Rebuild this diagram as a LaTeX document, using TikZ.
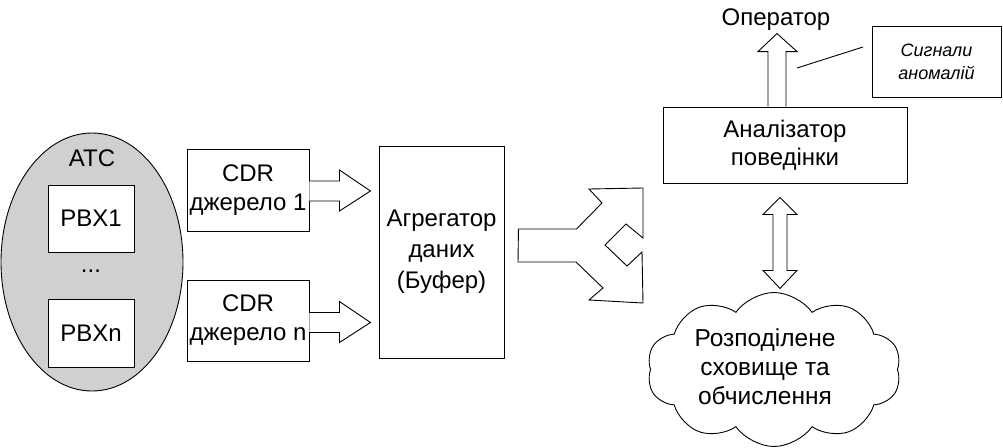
\documentclass[tikz,border=0pt]{standalone}
\usepackage{fontspec}
\setmainfont{Liberation Sans}
\usetikzlibrary{shapes.geometric,shapes.symbols,calc}
\definecolor{atcgray}{HTML}{D0D0D0}
\begin{document}
\begin{tikzpicture}[x=1pt,y=-1pt, line width=0.9pt,
  big/.style={font=\fontsize{24}{29}\selectfont},
  box/.style={draw, fill=white, inner sep=0pt, align=center, big},
  txt/.style={inner sep=0pt, align=center, big},
  blockarrow/.style={draw, fill=white, line join=miter}]
\useasboundingbox (0,0) rectangle (1003,447);

% ATC ellipse
\node[draw, ellipse, fill=atcgray, minimum width=182, minimum height=258, inner sep=0pt] (atc) at (92,262) {};
\node[txt] (atclbl) at (92,158) {ATC};
\node[box, minimum width=86, minimum height=67] (pbx1) at (91,218.5) {PBX1};
\node[txt] (dots) at (91,271) {...};
\node[box, minimum width=86, minimum height=68] (pbxn) at (91,333) {PBXn};

% CDR sources
\node[box, minimum width=122, minimum height=82] (cdr1) at (248,190) {CDR\\джерело 1};
\node[box, minimum width=122, minimum height=81] (cdr2) at (248,320.5) {CDR\\джерело n};

% Aggregator
\node[box, minimum width=125, minimum height=212, font=\fontsize{24}{31}\selectfont] (agg) at (441.5,252) {Агрегатор\\даних\\(Буфер)};

% block arrows from sources
\draw[blockarrow] ($(cdr1.east)+(0,-9)$) -- ++(30,0) -- ++(0,-11) -- ++(31,21) -- ++(-31,20) -- ++(0,-10) -- ++(-30,0);
\draw[blockarrow] ($(cdr2.east)+(0,-8)$) -- ++(30,0) -- ++(0,-11) -- ++(31,21) -- ++(-31,20) -- ++(0,-10) -- ++(-30,0);

% split arrow
\coordinate (sp) at ($(agg.east)+(14,-23)$);
\draw[blockarrow] (sp) -- ++(58,0) -- (602,203) -- (589,189) -- (643,188) -- (643,238) -- (626,224)
  -- (605,245) -- (627,266) -- (642,252) -- (643,303) -- (589,300) -- (603,288) -- (576,262) -- (518,262) -- cycle;

% Analyzer
\node[box, minimum width=244, minimum height=76, font=\fontsize{24}{28}\selectfont] (ana) at (785,145) {Аналізатор\\поведінки};

% Operator
\node[txt] (op) at (776,20) {Оператор};
\coordinate (ub) at ($(ana.north)+(-17,0)$);
\draw[blockarrow] (ub) -- ++(0,-55) -- ++(-10,0) -- ++(19,-18) -- ++(20,18) -- ++(-11,0) -- ++(0,55);

% anomaly signals
\node[draw, inner sep=0pt, minimum width=129, minimum height=71, align=center,
      font=\itshape\fontsize{18}{23}\selectfont] (sig) at (936.5,61.5) {Сигнали\\аномалій};
\coordinate (la) at (797,68);
\coordinate (lb) at (863,47);
\draw (la) -- (lb);

% cloud
\node[draw, cloud, cloud puffs=10, cloud puff arc=110, aspect=1.65, minimum width=254, minimum height=154, inner sep=0pt] (cloud) at (774,369.5) {};
\node[txt, font=\fontsize{24.5}{29}\selectfont] (cloudtxt) at (765,367) {Розподілене\\сховище та\\обчислення};

% double arrow
\coordinate (dt) at ($(ana.south)+(-5,14)$);
\draw[blockarrow] (dt) -- ++(17,17) -- ++(-10,0) -- ++(0,56) -- ++(10,0) -- ++(-17,18) -- ++(-17,-18) -- ++(10,0) -- ++(0,-56) -- ++(-10,0) -- cycle;

\end{tikzpicture}
\end{document}
